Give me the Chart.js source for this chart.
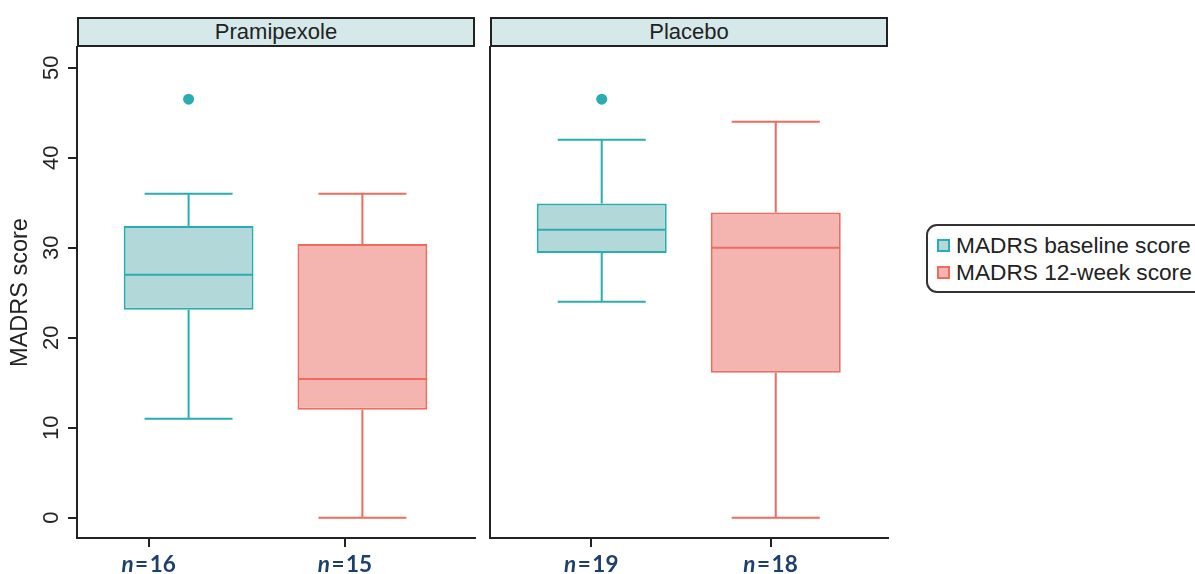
<!DOCTYPE html>
<html>
<head>
<meta charset="utf-8">
<script src="https://cdn.jsdelivr.net/npm/chart.js@4.4.1/dist/chart.umd.min.js"></script>
<style>
  body { margin: 0; background: #fff; width: 1195px; height: 574px; position: relative; overflow: hidden;
         font-family: "Liberation Sans", Arial, sans-serif; color: #222; }
  canvas { position: absolute; top: 0; }
  .strip { position: absolute; top: 17px; width: 398px; height: 30px; box-sizing: border-box;
           border: 2px solid #222; background: #d5e9ea; text-align: center; font-size: 22px; line-height: 26px; }
  .legend { position: absolute; left: 926px; top: 224px; width: 300px; height: 69px; box-sizing: border-box;
            border: 2px solid #333; border-radius: 11px; padding: 6px 0 0 9px; }
  .legend div { height: 27px; line-height: 27px; font-size: 22.7px; white-space: nowrap; }
  .legend span { display: inline-block; width: 13px; height: 13px; box-sizing: border-box; border: 2px solid;
                 vertical-align: middle; margin: -3px 6px 0 0; }
</style>
</head>
<body>
<canvas id="panelA" width="480" height="574" style="left:0"></canvas>
<canvas id="panelB" width="420" height="574" style="left:480px"></canvas>
<div class="strip" id="stripA" style="left:77px"></div>
<div class="strip" id="stripB" style="left:490px"></div>
<div class="legend" id="legend"></div>

<script>
// facets and the two time points
const groups = ['Pramipexole', 'Placebo'];
const series = ['MADRS baseline score', 'MADRS 12-week score'];
const nLabels = [[16, 15], [19, 18]];

// box statistics, [group][series]
const whiskLo = [[11, 0], [24, 0]];
const q1 = [[23.1, 12.0], [29.4, 16.1]];
const medians = [[27, 15.4], [32, 30]];
const q3 = [[32.4, 30.4], [34.9, 33.9]];
const whiskHi = [[36, 36], [42, 44]];
const outliers = [[[46.5], []], [[46.5], []]];

const yTicks = [0, 10, 20, 30, 40, 50];

const strokes = ['#2aadb0', '#f06b5c'];
const fills = ['#b3d8da', '#f4b5b0'];
const ink = '#222';
const capWidth = 0.506;

Chart.defaults.font.family = '"Liberation Sans", Arial, sans-serif';
Chart.defaults.color = ink;

// whiskers, caps and medians on top of the floating bars
const boxWhiskers = {
  id: 'boxWhiskers',
  afterDatasetsDraw(chart) {
    const p = chart.options.plugins.boxWhiskers.group;
    const xs = chart.scales.x, ys = chart.scales.y, ctx = chart.ctx;
    const cap = (xs.getPixelForValue(1 + capWidth) - xs.getPixelForValue(1)) / 2;
    ctx.save();
    ctx.lineWidth = 2;
    chart.getDatasetMeta(0).data.forEach((bar, i) => {
      const cx = bar.x, half = bar.width / 2;
      const yHi = ys.getPixelForValue(whiskHi[p][i]);
      const yLo = ys.getPixelForValue(whiskLo[p][i]);
      const yMed = ys.getPixelForValue(medians[p][i]);
      ctx.strokeStyle = strokes[i];
      ctx.beginPath();
      ctx.moveTo(cx, ys.getPixelForValue(q3[p][i])); ctx.lineTo(cx, yHi);
      ctx.moveTo(cx - cap, yHi); ctx.lineTo(cx + cap, yHi);
      ctx.moveTo(cx, ys.getPixelForValue(q1[p][i])); ctx.lineTo(cx, yLo);
      ctx.moveTo(cx - cap, yLo); ctx.lineTo(cx + cap, yLo);
      ctx.moveTo(cx - half + 1, yMed); ctx.lineTo(cx + half - 1, yMed);
      ctx.stroke();
    });
    ctx.restore();
  }
};

// "n = .." labels under the x ticks, italic n
const nTickLabels = {
  id: 'nTickLabels',
  afterDraw(chart) {
    const p = chart.options.plugins.boxWhiskers.group;
    const xs = chart.scales.x, ctx = chart.ctx;
    const fontN = 'italic bold 22.5px Lato';
    const fontR = 'bold 22.5px Lato';
    const gap = 1.5;
    ctx.save();
    ctx.fillStyle = '#1c3f6e';
    ctx.textBaseline = 'alphabetic';
    ctx.textAlign = 'left';
    xs.ticks.forEach((t, i) => {
      const x = xs.getPixelForValue(t.value);
      const num = String(nLabels[p][i]);
      ctx.font = fontN; const wn = ctx.measureText('n').width;
      ctx.font = fontR; const we = ctx.measureText('=').width; const wd = ctx.measureText(num).width;
      let cx = x - (wn + we + wd + 2 * gap) / 2;
      ctx.font = fontN; ctx.fillText('n', cx, 572); cx += wn + gap;
      ctx.font = fontR; ctx.fillText('=', cx, 572); cx += we + gap;
      ctx.fillText(num, cx, 572);
    });
    ctx.restore();
  }
};

function makePanel(p, canvasId, cfg) {
  const boxes = series.map((s, i) => ({ x: i + 1, y: [q1[p][i], q3[p][i]] }));
  const pts = [];
  outliers[p].forEach((vals, i) => vals.forEach(v => pts.push({ x: i + 1, y: v, s: i })));

  const yScale = cfg.showY ? {
    min: -2.26, max: 52.3,
    afterBuildTicks: s => { s.ticks = yTicks.map(v => ({ value: v })); },
    ticks: { minRotation: 90, maxRotation: 90, crossAlign: 'center', padding: 4, color: ink, font: { size: 22 } },
    grid: { drawOnChartArea: false, tickLength: 9, color: ink, lineWidth: 2 },
    border: { color: ink, width: 2 },
    title: { display: true, text: 'MADRS score', color: ink, font: { size: 23.5 }, padding: { top: 6, bottom: 0 } },
    afterFit: s => { s.width = cfg.left; }
  } : {
    min: -2.26, max: 52.3,
    ticks: { display: false },
    grid: { drawOnChartArea: false, drawTicks: false },
    border: { color: ink, width: 2 },
    afterFit: s => { s.width = cfg.left; }
  };

  return new Chart(document.getElementById(canvasId), {
    type: 'bar',
    data: {
      datasets: [
        { type: 'bar', label: 'box', data: boxes, backgroundColor: fills, borderColor: strokes,
          borderWidth: 2, borderSkipped: false, barPercentage: 0.747, categoryPercentage: 1 },
        { type: 'scatter', label: 'outliers', data: pts, pointRadius: 5.5, pointBorderWidth: 0,
          pointBackgroundColor: c => strokes[c.raw ? c.raw.s : 0] }
      ]
    },
    options: {
      responsive: false,
      animation: false,
      layout: { padding: { top: 47, right: cfg.right, left: 0, bottom: 0 } },
      plugins: { legend: { display: false }, tooltip: { enabled: false }, boxWhiskers: { group: p } },
      scales: {
        x: {
          type: 'linear', min: 0.358, max: 2.645, offset: false,
          afterBuildTicks: s => { s.ticks = cfg.labelAt.map(v => ({ value: v })); },
          ticks: { display: false },
          grid: { offset: false, drawOnChartArea: false, tickLength: 9, color: ink, lineWidth: 2 },
          border: { color: ink, width: 2 },
          afterFit: s => { s.height = 36; }
        },
        y: yScale
      }
    },
    plugins: [boxWhiskers, nTickLabels]
  });
}

makePanel(0, 'panelA', { showY: true, left: 77, right: 5, labelAt: [0.77, 1.9] });
makePanel(1, 'panelB', { showY: false, left: 10, right: 12, labelAt: [0.94, 1.97] });

document.getElementById('stripA').textContent = groups[0];
document.getElementById('stripB').textContent = groups[1];

const legend = document.getElementById('legend');
series.forEach((s, i) => {
  const row = document.createElement('div');
  const key = document.createElement('span');
  key.style.background = fills[i];
  key.style.borderColor = strokes[i];
  row.appendChild(key);
  row.appendChild(document.createTextNode(s));
  legend.appendChild(row);
});
</script>
</body>
</html>
